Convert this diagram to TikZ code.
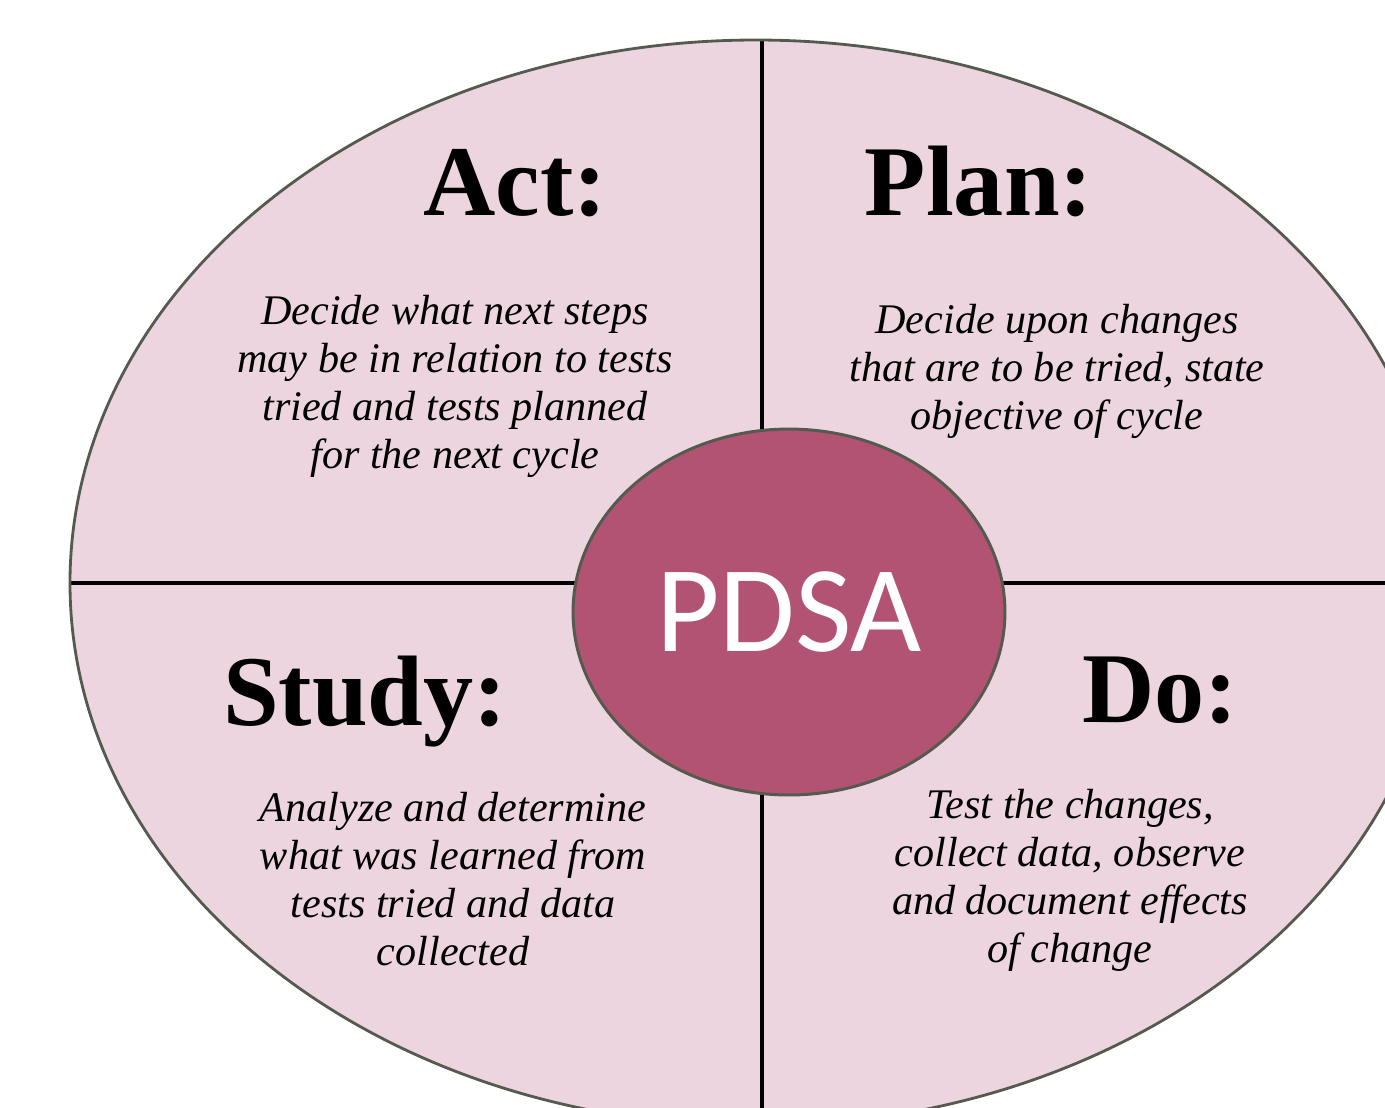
\documentclass[tikz,border=0pt]{standalone}
\usepackage{fontspec}
\setmainfont{Liberation Serif}
\newfontfamily\pdsafont{Carlito}
\usetikzlibrary{positioning,shapes}
\definecolor{wheelpink}{RGB}{236,213,222}
\definecolor{hubred}{RGB}{179,83,115}
\definecolor{rimgray}{RGB}{85,90,80}
\tikzstyle{title}=[font=\fontsize{57}{60}\selectfont\bfseries, anchor=base, inner sep=0pt]
\tikzstyle{body}=[font=\fontsize{24}{27.3}\selectfont\itshape, align=center, inner sep=0pt]
\tikzstyle{hub}=[ellipse, draw=rimgray, fill=hubred, line width=1.7pt, minimum width=8.64cm, minimum height=7.32cm, inner sep=0pt, text=white, font=\pdsafont\fontsize{70}{70}\selectfont]
\tikzstyle{divider}=[line width=2.3pt]

\begin{document}
\begin{tikzpicture}[x=0.02cm,y=-0.02cm]
\clip (0,0) rectangle (1385,1107);
\fill[wheelpink] (756,583) ellipse [x radius=686, y radius=543];
\begin{scope}
  \clip (756,583) ellipse [x radius=686, y radius=543];
  \coordinate (top) at (762,0);
  \coordinate (bottom) at (762,1140);
  \coordinate (left) at (60,583);
  \coordinate (right) at (1450,583);
  \draw[divider] (top) -- (bottom);
  \draw[divider] (left) -- (right);
\end{scope}
\draw[rimgray, line width=1.6pt] (756,583) ellipse [x radius=686, y radius=543];

\node[hub] at (789,612) (hub) {PDSA};

% quarter titles
\node[title] at (515,215) (act) {Act:};
\node[title] at (979,215) (plan) {Plan:};
\node[title] at (365,725) (study) {Study:};
\node[title] at (1160,722) (do) {Do:};

% quarter texts
\node[body] at (455,386) (actbody) {Decide what next steps\\may be in relation to tests\\tried and tests planned\\for the next cycle};
\node[body] at (1057,371) (planbody) {Decide upon changes\\that are to be tried, state\\objective of cycle};
\node[body] at (453,879) (studybody) {Analyze and determine\\what was learned from\\tests tried and data\\collected};
\node[body] at (1070,880) (dobody) {Test the changes,\\collect data, observe\\and document effects\\of change};
\end{tikzpicture}
\end{document}
